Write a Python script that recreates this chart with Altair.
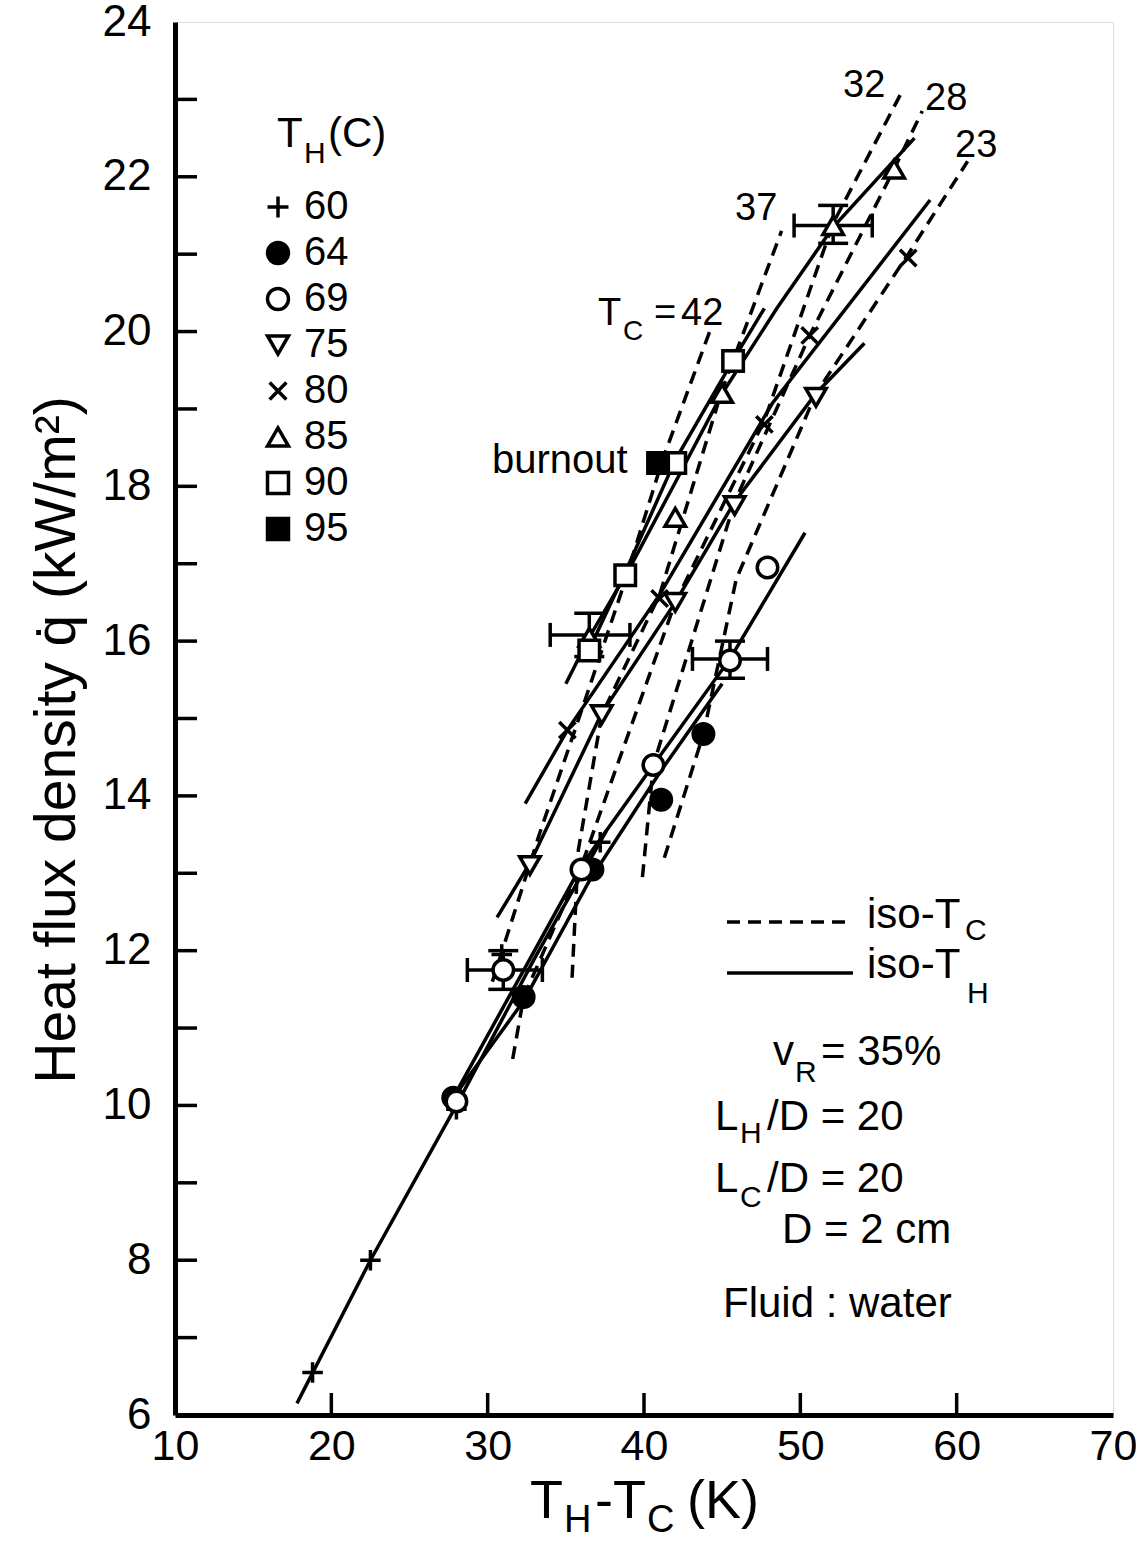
import altair as alt
import pandas as pd

# ---------------------------------------------------------------------------
# Measured points: temperature difference T_H - T_C (K) and heat flux (kW/m^2)
# grouped by hot-side temperature T_H (deg C)
# ---------------------------------------------------------------------------
TH_LEVELS = ["60", "64", "69", "75", "80", "85", "90", "95"]

PTS_DT = {
    "60": [18.8, 22.5, 28.0, 30.9, 37.2],
    "64": [27.8, 32.3, 36.7, 41.1, 43.8],
    "69": [28.0, 31.0, 36.0, 40.6, 45.5, 47.9],
    "75": [32.7, 37.3, 42.0, 45.8, 51.0],
    "80": [35.1, 41.0, 47.7, 50.6, 56.9],
    "85": [36.5, 42.0, 45.0, 52.1, 56.0],
    "90": [36.5, 38.8, 42.0, 45.7],
    "95": [40.9],
}
PTS_Q = {
    "60": [6.55, 8.0, 9.95, 11.95, 13.4],
    "64": [10.1, 11.4, 13.05, 13.95, 14.8],
    "69": [10.05, 11.75, 13.05, 14.4, 15.75, 16.95],
    "75": [13.1, 15.05, 16.5, 17.75, 19.15],
    "80": [14.85, 16.55, 18.8, 19.95, 20.95],
    "85": [16.05, 17.6, 19.2, 21.37, 22.1],
    "90": [15.88, 16.85, 18.3, 19.62],
    "95": [18.3],
}

# iso-T_H curves (solid)
FIT_DT = {
    "60": [17.8, 22.5, 28.0, 33.0, 37.6],
    "64": [27.8, 32.3, 36.5, 41.0, 45.0],
    "69": [27.8, 36.0, 40.6, 45.5, 50.3],
    "75": [30.6, 32.7, 37.3, 42.0, 45.8, 51.0, 54.1],
    "80": [32.4, 35.1, 41.0, 48.2, 58.3],
    "85": [35.0, 36.5, 39.1, 42.0, 45.0, 48.5, 52.1, 57.3],
    "90": [36.4, 38.8, 42.0, 45.7, 47.7],
}
FIT_Q = {
    "60": [6.15, 8.0, 10.0, 11.9, 13.55],
    "64": [10.1, 11.35, 12.9, 14.3, 15.45],
    "69": [10.1, 13.1, 14.4, 15.77, 17.4],
    "75": [12.43, 13.13, 15.07, 16.5, 17.8, 19.2, 19.85],
    "80": [13.9, 14.85, 16.6, 19.07, 21.7],
    "85": [15.45, 16.05, 16.95, 18.05, 19.2, 20.3, 21.35, 22.5],
    "90": [15.85, 16.89, 18.34, 19.63, 20.3],
}

# iso-T_C curves (dashed), cold-side temperature T_C (deg C)
ISO_DT = {
    "42": [30.3, 33.3, 36.0, 38.5, 41.2, 44.2],
    "37": [35.4, 35.8, 37.3, 41.0, 45.0, 48.8],
    "32": [31.6, 32.3, 36.0, 42.0, 47.7, 52.1, 56.5],
    "28": [39.9, 40.6, 45.8, 50.6, 56.0, 57.8],
    "23": [41.3, 43.8, 45.9, 51.0, 56.9, 60.7],
}
ISO_Q = {
    "42": [11.6, 13.5, 15.1, 16.6, 18.35, 20.0],
    "37": [11.65, 13.3, 15.05, 16.6, 19.25, 21.3],
    "32": [10.6, 11.4, 13.1, 16.5, 18.85, 21.4, 23.1],
    "28": [12.95, 14.4, 17.8, 19.95, 22.1, 22.85],
    "23": [13.2, 14.8, 16.8, 19.2, 21.0, 22.2],
}

# error bars on selected points
ERR_DT = [36.5, 31.0, 45.5, 52.1]
ERR_Q = [16.08, 11.75, 15.77, 21.37]
ERR_DT_LO = [34.0, 28.7, 43.1, 49.6]
ERR_DT_HI = [39.1, 33.5, 47.9, 54.6]
ERR_Q_LO = [15.8, 11.5, 15.52, 21.14]
ERR_Q_HI = [16.36, 12.0, 16.0, 21.63]

X_LABELS = [10, 20, 30, 40, 50, 60, 70]
Y_LABELS = [6, 8, 10, 12, 14, 16, 18, 20, 22, 24]
X_TICKS = [20, 30, 40, 50, 60]
Y_TICKS = [7, 8, 9, 10, 11, 12, 13, 14, 15, 16, 17, 18, 19, 20, 21, 22, 23]

# marker styles per T_H
SHAPES = [
    "M-1,0L1,0M0,-1L0,1",                    # +
    "circle",                                 # filled circle
    "circle",                                 # open circle
    "triangle-down",
    "M-0.8,-0.8L0.8,0.8M-0.8,0.8L0.8,-0.8",   # x
    "triangle-up",
    "square",
    "square",
]
FILLS = ["white", "black", "white", "white", "white", "white", "white", "black"]
STROKES = ["black"] * len(TH_LEVELS)

# ---------------------------------------------------------------------------
W, H = 938, 1393
FONT = "Liberation Sans, Arial, Helvetica, sans-serif"
LW = 3.5

pts = pd.DataFrame(
    [{"TH": k, "dT": x, "q": y} for k in TH_LEVELS for x, y in zip(PTS_DT[k], PTS_Q[k])]
)
fits = pd.DataFrame(
    [{"TH": k, "i": i, "dT": x, "q": y}
     for k in FIT_DT for i, (x, y) in enumerate(zip(FIT_DT[k], FIT_Q[k]))]
)
isos = pd.DataFrame(
    [{"TC": k, "i": i, "dT": x, "q": y}
     for k in ISO_DT for i, (x, y) in enumerate(zip(ISO_DT[k], ISO_Q[k]))]
)
errs = pd.DataFrame({"dT": ERR_DT, "q": ERR_Q, "dT_lo": ERR_DT_LO, "dT_hi": ERR_DT_HI,
                     "q_lo": ERR_Q_LO, "q_hi": ERR_Q_HI})
xt = pd.DataFrame({"dT": X_TICKS})
yt = pd.DataFrame({"q": Y_TICKS})

xs = alt.Scale(domain=[10, 70], nice=False, zero=False)
ys = alt.Scale(domain=[6, 24], nice=False, zero=False)
X_AX = alt.Axis(values=X_LABELS, title=None, ticks=False, tickSize=0, grid=False,
                labelFont=FONT, labelFontSize=43, labelColor="black", labelPadding=10,
                labelFlush=False, labelOverlap=False, domainColor="black", domainWidth=5,
                format="d")
Y_AX = alt.Axis(values=Y_LABELS, title=None, ticks=False, tickSize=0, grid=False,
                labelFont=FONT, labelFontSize=44, labelColor="black", labelPadding=24,
                labelFlush=False, labelOverlap=False, domainColor="black", domainWidth=5,
                format="d")


def X(field="dT"):
    return alt.X(f"{field}:Q", scale=xs, axis=X_AX)


def Y(field="q"):
    return alt.Y(f"{field}:Q", scale=ys, axis=Y_AX)


solid = alt.Chart(fits).mark_line(color="black", strokeWidth=LW).encode(
    x=X(), y=Y(), detail="TH:N", order="i:Q")

dashed = alt.Chart(isos).mark_line(color="black", strokeWidth=LW, strokeDash=[13, 8]).encode(
    x=X(), y=Y(), detail="TC:N", order="i:Q")

err_h = alt.Chart(errs).mark_rule(color="black", strokeWidth=LW).encode(
    x=X("dT_lo"), x2="dT_hi", y=Y())
err_v = alt.Chart(errs).mark_rule(color="black", strokeWidth=LW).encode(
    x=X(), y=Y("q_lo"), y2="q_hi")


def cap(xf, yf, size, orient):
    return alt.Chart(errs).mark_tick(color="black", thickness=LW, size=size, orient=orient,
                                     opacity=1).encode(x=X(xf), y=Y(yf))


caps = [cap("dT_lo", "q", 24, "vertical"), cap("dT_hi", "q", 24, "vertical"),
        cap("dT", "q_lo", 30, "horizontal"), cap("dT", "q_hi", 30, "horizontal")]

legend = alt.Legend(title=None, orient="none", legendX=83, legendY=165, padding=0,
                    labelFont=FONT, labelFontSize=40, labelColor="black", labelOffset=6,
                    rowPadding=6, symbolSize=440, symbolStrokeWidth=LW,
                    labelBaseline="middle")
points = alt.Chart(pts).mark_point(filled=True, strokeWidth=LW, size=420,
                                   opacity=1, fillOpacity=1).encode(
    x=X(), y=Y(),
    shape=alt.Shape("TH:N", scale=alt.Scale(domain=TH_LEVELS, range=SHAPES), legend=legend),
    fill=alt.Fill("TH:N", scale=alt.Scale(domain=TH_LEVELS, range=FILLS), legend=legend),
    stroke=alt.Stroke("TH:N", scale=alt.Scale(domain=TH_LEVELS, range=STROKES), legend=legend),
)

xtick = alt.Chart(xt).mark_rule(color="black", strokeWidth=LW).encode(
    x=X(), y=alt.value(H), y2=alt.value(H - 22))
ytick = alt.Chart(yt).mark_rule(color="black", strokeWidth=LW).encode(
    y=Y(), x=alt.value(0), x2=alt.value(22))

ANCHOR = pd.DataFrame({"a": [0]})


def txt(s, x, y, size=42, **kw):
    return alt.Chart(ANCHOR).mark_text(
        text=s, fontSize=size, font=FONT, align=kw.pop("align", "left"),
        baseline=kw.pop("baseline", "alphabetic"), color="black", **kw
    ).encode(x=alt.value(x), y=alt.value(y))


SUB = 30
labels = [
    # legend heading T_H(C)
    txt("T", 102, 125), txt("H", 129, 141, SUB), txt("(C)", 153, 125),
    # iso-T_C curve labels
    txt("T", 423, 303, 38), txt("C", 448, 318, 28), txt("=", 479, 303, 38), txt("42", 506, 303, 38),
    txt("37", 560, 198, 38), txt("32", 668, 75, 38), txt("28", 750, 88, 38), txt("23", 780, 135, 38),
    txt("burnout", 317, 451, 40),
    # line-style key
    txt("iso-T", 692, 906), txt("C", 790, 918, SUB),
    txt("iso-T", 692, 956), txt("H", 792, 981, SUB),
    # operating conditions
    txt("v", 598, 1043), txt("R", 620, 1060, SUB), txt("= 35%", 646, 1043),
    txt("L", 540, 1108), txt("H", 565, 1121, SUB), txt("/D = 20", 592, 1108),
    txt("L", 540, 1170), txt("C", 565, 1185, SUB), txt("/D = 20", 592, 1170),
    txt("D = 2 cm", 607, 1221),
    txt("Fluid : water", 548, 1295),
    # x-axis title
    txt("T", 355, 1496, 54), txt("H", 389, 1510, 38), txt("-", 420, 1496, 54),
    txt("T", 438, 1496, 54), txt("C", 472, 1510, 38), txt("(K)", 512, 1496, 54),
    # y-axis title
    txt("Heat flux density q\u0307 (kW/m\u00b2)", -117, 718, 57,
        angle=270, align="center", baseline="middle"),
]

key_dash = alt.Chart(ANCHOR).mark_rule(color="black", strokeWidth=LW, strokeDash=[13, 8]).encode(
    x=alt.value(552), x2=alt.value(678), y=alt.value(900))
key_solid = alt.Chart(ANCHOR).mark_rule(color="black", strokeWidth=LW).encode(
    x=alt.value(552), x2=alt.value(678), y=alt.value(951))

chart = alt.layer(
    solid, dashed, err_h, err_v, *caps, points,
    xtick, ytick, key_dash, key_solid, *labels
).properties(
    width=W, height=H,
    autosize=alt.AutoSizeParams(type="none"),
    padding={"left": 175, "top": 22, "right": 23, "bottom": 126},
).configure_view(
    stroke="black", strokeWidth=3
).configure(background="white")

chart.save("out.html", embed_options={"renderer": "svg", "actions": False})
